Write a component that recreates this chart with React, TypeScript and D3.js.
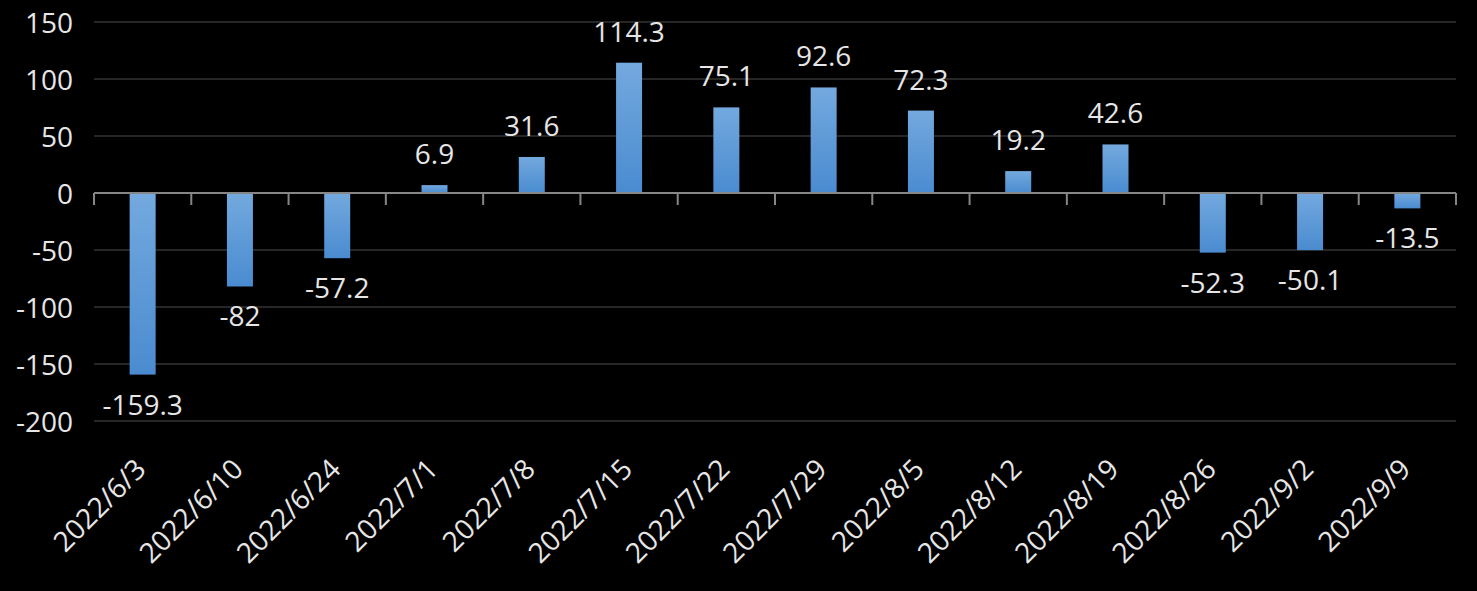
import React from "react";
import * as d3 from "d3";

const categories = ["2022/6/3","2022/6/10","2022/6/24","2022/7/1","2022/7/8","2022/7/15","2022/7/22","2022/7/29","2022/8/5","2022/8/12","2022/8/19","2022/8/26","2022/9/2","2022/9/9"];
const values = [-159.3, -82, -57.2, 6.9, 31.6, 114.3, 75.1, 92.6, 72.3, 19.2, 42.6, -52.3, -50.1, -13.5];
const yTicks = [150, 100, 50, 0, -50, -100, -150, -200];

const W = 1477, H = 591;
const left = 94, right = 1456, top = 22, bottom = 421;
const FONT = "'Open Sans', 'Noto Sans', sans-serif";
const TEXT = "#e6e6e6";

export default function App() {
  const x = d3.scaleBand<string>().domain(categories).range([left, right]).paddingInner(0).paddingOuter(0);
  const y = d3.scaleLinear().domain([-200, 150]).range([bottom, top]);
  const bw = 26;
  const y0 = y(0);
  const boundaries = d3.range(categories.length + 1).map((i) => left + i * x.step());

  return (
    <div style={{ position: "absolute", left: 0, top: 0, width: W, height: H, background: "#000" }}>
      <svg width={W} height={H} style={{ display: "block" }}>
        <defs>
          <linearGradient id="barGrad" x1="0" y1="0" x2="0" y2="1">
            <stop offset="0" stopColor="#73a9de" />
            <stop offset="1" stopColor="#4a8bd0" />
          </linearGradient>
        </defs>
        <rect width={W} height={H} fill="#000" />
        {yTicks.map((t) => (
          <g key={t}>
            {t !== 0 && <line x1={left} x2={right} y1={y(t)} y2={y(t)} stroke="#262626" strokeWidth={2} />}
            <text x={73} y={y(t)} textAnchor="end" dominantBaseline="central" fill={TEXT} fontFamily={FONT} fontSize={28}>{t}</text>
          </g>
        ))}
        {values.map((v, i) => {
          const cx = (x(categories[i]) as number) + x.bandwidth() / 2;
          const yt = Math.min(y(v), y0);
          const h = Math.abs(y(v) - y0);
          return (
            <g key={i}>
              <rect x={cx - bw / 2} y={yt} width={bw} height={h} fill="url(#barGrad)" />
              <text x={cx} y={v >= 0 ? y(v) - 21 : y(v) + 40} textAnchor="middle" fill={TEXT} fontFamily={FONT} fontSize={28}>{v}</text>
            </g>
          );
        })}
        <line x1={left} x2={right} y1={y0} y2={y0} stroke="#868686" strokeWidth={2} />
        {boundaries.map((bx, i) => (
          <line key={i} x1={bx} x2={bx} y1={y0} y2={y0 + 12} stroke="#868686" strokeWidth={2} />
        ))}
        {categories.map((c) => {
          const cx = (x(c) as number) + x.bandwidth() / 2;
          return (
            <text key={c} transform={`translate(${cx + 5},${471}) rotate(-45)`} textAnchor="end" fill={TEXT} fontFamily={FONT} fontSize={28}>{c}</text>
          );
        })}
      </svg>
    </div>
  );
}
